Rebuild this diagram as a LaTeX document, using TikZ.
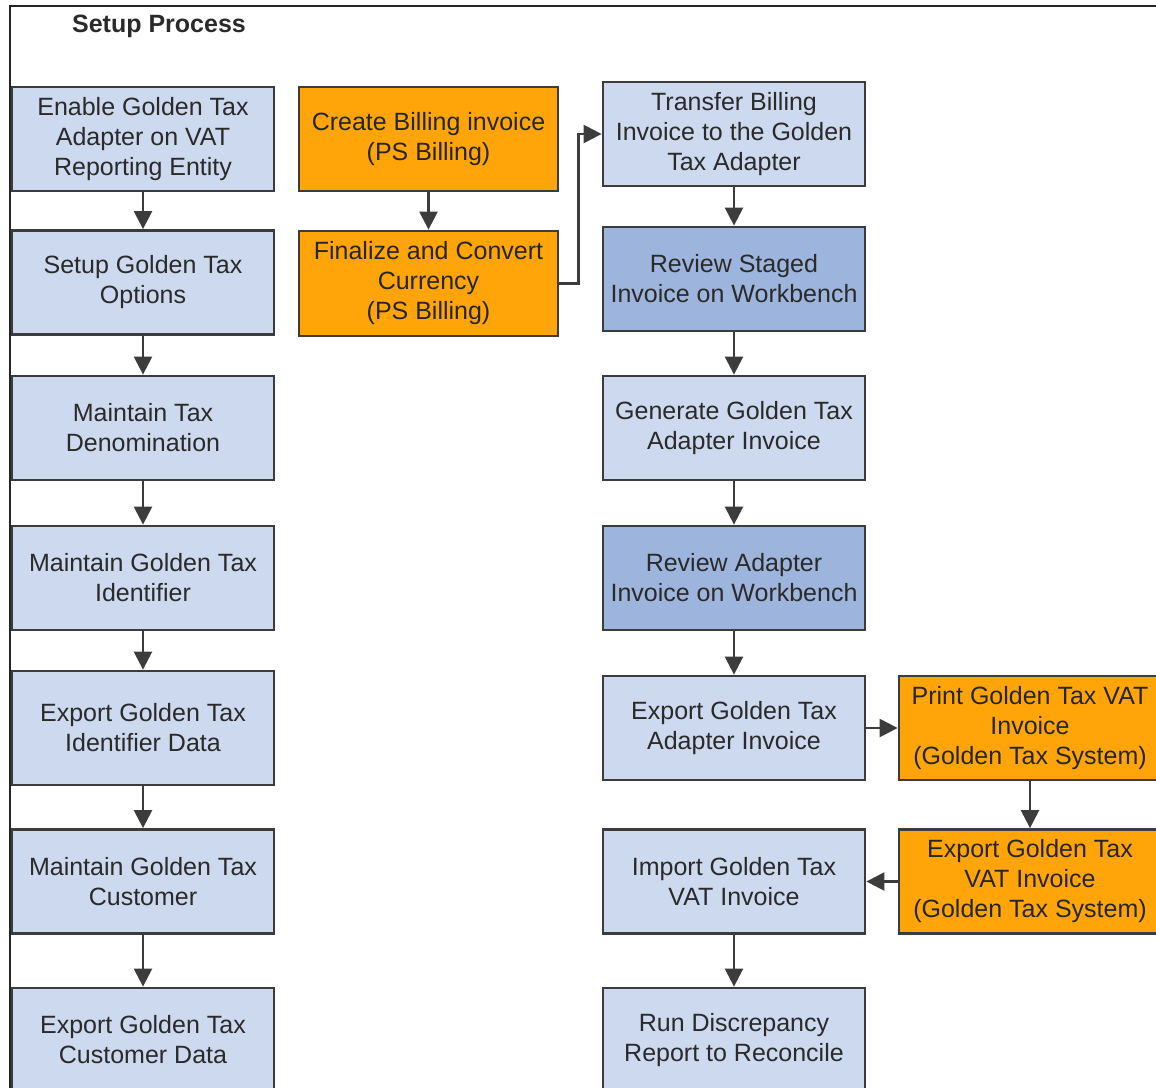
\documentclass[tikz,border=0pt]{standalone}
\usepackage{fontspec}
\setmainfont{Liberation Sans}
\usepackage{xcolor}
\usetikzlibrary{arrows.meta, positioning, calc}
\definecolor{stepblue}{HTML}{CCD9EE}
\definecolor{reviewblue}{HTML}{9DB4DC}
\definecolor{billorange}{HTML}{FFA50A}
\definecolor{edgegray}{HTML}{3C3C3C}
\definecolor{inkgray}{HTML}{2A2A2A}
\begin{document}
\begin{tikzpicture}[
  x=0.5pt, y=-0.5pt,
  font=\fontsize{12.5}{15}\selectfont,
  task/.style={draw=edgegray, line width=1.4pt, fill=stepblue, text=inkgray, minimum width=131pt, minimum height=52pt, align=center, inner sep=2pt},
  review/.style={task, fill=reviewblue},
  billing/.style={task, fill=billorange, text=black!85},
  flow/.style={line width=1.2pt, edgegray, -{Triangle[length=9pt, width=9pt]}},
]
\useasboundingbox (0,0) rectangle (1156,1087);
\clip (0,0) rectangle (1156,1087);
\fill[white] (0,0) rectangle (1156,1087);
\draw[line width=0.8pt, black!85] (10,1100) -- (10,6) -- (1160,6);
\node[font=\bfseries\fontsize{12.5}{15}\selectfont, text=inkgray] (title) at (159,26) {Setup Process};
% setup column
\node[task] (l1) at (143,139) {Enable Golden Tax\\ Adapter on VAT\\ Reporting Entity};
\node[task] (l2) at (143,282.5) {Setup Golden Tax\\ Options};
\node[task] (l3) at (143,428) {Maintain Tax\\ Denomination};
\node[task] (l4) at (143,578) {Maintain Golden Tax\\ Identifier};
\node[task, minimum height=57pt] (l5) at (143,728) {Export Golden Tax\\ Identifier Data};
\node[task] (l6) at (143,881.5) {Maintain Golden Tax\\ Customer};
\node[task] (l7) at (143,1040) {Export Golden Tax\\ Customer Data};
% billing
\node[billing, minimum width=129.5pt] (m1) at (428.5,139) {Create Billing invoice\\ (PS Billing)};
\node[billing, minimum width=129.5pt, minimum height=52.5pt] (m2) at (428.5,283.5) {Finalize and Convert\\ Currency\\ (PS Billing)};
% adapter column
\node[task] (r1) at (734,134) {Transfer Billing\\ Invoice to the Golden\\ Tax Adapter};
\node[review] (r2) at (734,279) {Review Staged\\ Invoice on Workbench};
\node[task] (r3) at (734,428) {Generate Golden Tax\\ Adapter Invoice};
\node[review] (r4) at (734,578) {Review Adapter\\ Invoice on Workbench};
\node[task] (r5) at (734,728) {Export Golden Tax\\ Adapter Invoice};
\node[task] (r6) at (734,881.5) {Import Golden Tax\\ VAT Invoice};
\node[task] (r7) at (734,1040) {Run Discrepancy\\ Report to Reconcile};
% golden tax system
\node[billing] (o1) at (1030,728) {Print Golden Tax VAT\\ Invoice\\ (Golden Tax System)};
\node[billing] (o2) at (1030,881.5) {Export Golden Tax\\ VAT Invoice\\ (Golden Tax System)};
\foreach \a/\b in {l1/l2, l2/l3, l3/l4, l4/l5, l5/l6, l6/l7, m1/m2, r1/r2, r2/r3, r3/r4, r4/r5, r6/r7, o1/o2}{
  \draw[flow] (\a) -- (\b);
}
\draw[flow] (r5) -- (o1);
\draw[flow] (o2) -- (r6);
\draw[flow] (m2.east) -- ++(19,0) |- (r1.west);
\end{tikzpicture}
\end{document}
